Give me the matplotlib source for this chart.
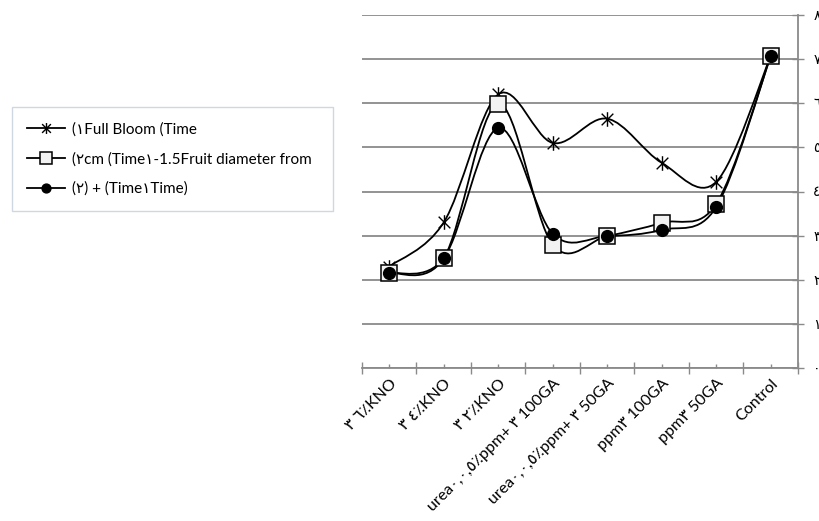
import numpy as np
import matplotlib
matplotlib.use("Agg")
import matplotlib.pyplot as plt
from matplotlib.path import Path
from matplotlib.patches import PathPatch
from matplotlib.lines import Line2D

plt.rcParams['font.family'] = ['Lato', 'DejaVu Sans']

# data
categories = ["٣ ٦٪KNO", "٣ ٤٪KNO", "٣ ٢٪KNO",
              "urea٠,٠,٥٪ppm+ ٣ 100GA", "urea٠,٠,٥٪ppm+ ٣ 50GA",
              "ppm٣ 100GA", "ppm٣ 50GA", "Control"]
full_bloom = [2.30, 3.30, 6.20, 5.10, 5.65, 4.65, 4.22, 7.07]
fruit_diam = [2.15, 2.49, 5.99, 2.79, 2.99, 3.29, 3.72, 7.07]
combined = [2.15, 2.49, 5.44, 3.04, 2.99, 3.13, 3.65, 7.07]
series_labels = ["(١Full Bloom (Time",
                 "(٢cm (Time١-1.5Fruit diameter from",
                 "(٢) + (Time١Time)"]
ytick_vals = [0, 1, 2, 3, 4, 5, 6, 7, 8]
ytick_labels = ["٠", "١", "٢", "٣", "٤", "٥", "٦", "٧", "٨"]

GRID = "#8a8a8a"

# excel-like asterisk marker (X plus vertical bar)
star = Path([(-1, -1), (1, 1), (-1, 1), (1, -1), (0, -1.25), (0, 1.25)],
            [Path.MOVETO, Path.LINETO, Path.MOVETO, Path.LINETO, Path.MOVETO, Path.LINETO])


def smooth_path(x, y):
    # catmull-rom style bezier, like excel "smoothed line"
    p = np.column_stack([x, y]).astype(float)
    pts = np.vstack([p[0], p, p[-1]])
    verts = [p[0]]
    codes = [Path.MOVETO]
    for i in range(1, len(pts) - 2):
        p0, p1, p2, p3 = pts[i - 1], pts[i], pts[i + 1], pts[i + 2]
        c1 = p1 + (p2 - p0) / 6.0
        c2 = p2 - (p3 - p1) / 6.0
        verts += [c1, c2, p2]
        codes += [Path.CURVE4] * 3
    return Path(verts, codes)


fig = plt.figure(figsize=(8.2, 5.21), dpi=100, facecolor='w')
ax = fig.add_axes([362 / 820, 1 - 368 / 521, 436 / 820, 353 / 521])

x = np.arange(len(categories))

styles = [
    (full_bloom, dict(marker=star, markersize=10.5, markeredgewidth=1.0,
                      markerfacecolor='none', markeredgecolor='black')),
    (fruit_diam, dict(marker='s', markersize=11.5, markeredgewidth=1.1,
                      markerfacecolor='#f2f2f2', markeredgecolor='black')),
    (combined, dict(marker='o', markersize=8.5, markeredgewidth=1.0,
                    markerfacecolor='black', markeredgecolor='black')),
]

handles = []
for z, (vals, mk) in enumerate(styles):
    ax.add_patch(PathPatch(smooth_path(x, vals), facecolor='none',
                           edgecolor='black', lw=1.3, zorder=3))
    ax.plot(x, vals, linestyle='none', zorder=4 + z, **mk)
    handles.append(Line2D([], [], color='black', lw=1.3, **mk))

ax.set_xlim(-0.5, 7.5)
ax.set_ylim(0, 8)

# category ticks in the centre, long ticks on the boundaries
ax.set_xticks(x)
ax.set_xticklabels(categories, rotation=45, ha='right', va='top',
                   rotation_mode='anchor', fontsize=11.5)
ax.set_xticks(np.arange(-0.5, 8, 1), minor=True)
ax.tick_params(axis='x', which='major', direction='in', length=3,
               color=GRID, width=1.0, pad=6)
ax.tick_params(axis='x', which='minor', direction='inout', length=9,
               color=GRID, width=1.0)

ax.yaxis.tick_right()
ax.set_yticks(ytick_vals)
ax.set_yticklabels(ytick_labels, fontsize=10)
ax.tick_params(axis='y', direction='inout', length=8, color=GRID,
               width=1.0, pad=7)

ax.grid(axis='y', color=GRID, lw=1.3)
ax.set_axisbelow(True)
for s in ['top', 'left']:
    ax.spines[s].set_visible(False)
for s in ['bottom', 'right']:
    ax.spines[s].set_color(GRID)
    ax.spines[s].set_linewidth(1.3)

leg = ax.legend(handles, series_labels, loc='upper left',
                bbox_to_anchor=(12 / 820, 1 - 107 / 521, 321 / 820, 0.0),
                bbox_transform=fig.transFigure, mode='expand',
                borderaxespad=0.0, fontsize=11, frameon=True, fancybox=False,
                handlelength=2.5, handletextpad=0.4, labelspacing=1.0,
                borderpad=1.0, markerscale=0.75)
leg.get_frame().set_edgecolor('#c3cddd')
leg.get_frame().set_linewidth(1.0)

plt.savefig("out.png", dpi=100)
